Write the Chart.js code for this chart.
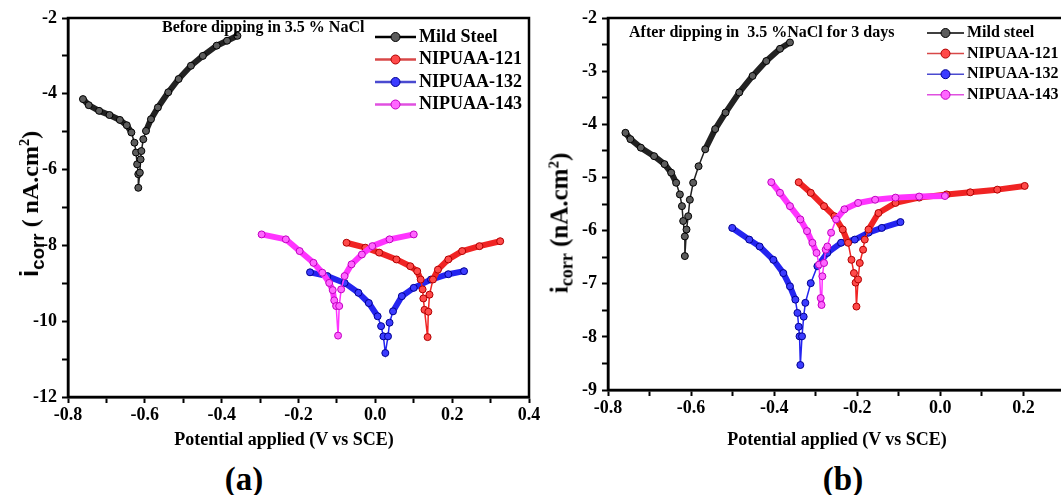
<!DOCTYPE html>
<html lang="en">
<head>
  <meta charset="UTF-8" />
  <title>Tafel plots before and after dipping in NaCl</title>
  <script src="https://cdn.jsdelivr.net/npm/chart.js"></script>
  <style>
    html, body {
      margin: 0;
      padding: 0;
      background: #fff;
      overflow: hidden;
    }
    body {
      width: 1061px;
      height: 495px;
      position: relative;
      font-family: "Liberation Serif", "Times New Roman", serif;
      font-weight: bold;
      color: #000;
    }
    .panel {
      position: absolute;
      top: 0;
      width: 560px;
      height: 460px;
    }
    #panelA { left: 0; }
    #panelB { left: 530px; }
    .xtitle, .caption, .ytitle {
      position: absolute;
      white-space: nowrap;
      line-height: 1;
    }
    .xtitle, .caption {
      transform: translate(-50%, -50%);
    }
    .xtitle { font-size: 18px; }
    .caption { font-size: 33px; }
    .ytitle {
      transform: translate(-50%, -50%) rotate(-90deg);
    }
    .ytitle sub { font-size: 0.72em; vertical-align: -0.3em; line-height: 0; }
    .ytitle sup { font-size: 0.6em; vertical-align: 0.6em; line-height: 0; }
    .sans { font-family: "Liberation Sans", Arial, sans-serif; }
    #ytA { left: 29px; top: 204px; font-size: 24px; }
    #ytA .sans { font-size: 26px; }
    #ytB { left: 559px; top: 223px; font-size: 25px; }
    #xtA { left: 284px; top: 439px; }
    #xtB { left: 837px; top: 439px; }
    #capA { left: 244px; top: 479px; }
    #capB { left: 843px; top: 479px; }
  </style>
</head>
<body>
  <div class="panel" id="panelA"><canvas id="chartA" width="560" height="460"></canvas></div>
  <div class="panel" id="panelB"><canvas id="chartB" width="560" height="460"></canvas></div>

  <div class="ytitle" id="ytA"><span class="sans">i<sub>corr</sub></span> ( nA.cm<sup>2</sup>)</div>
  <div class="ytitle" id="ytB">i<sub>corr</sub> (nA.cm<sup>2</sup>)</div>
  <div class="xtitle" id="xtA">Potential applied (V vs SCE)</div>
  <div class="xtitle" id="xtB">Potential applied (V vs SCE)</div>
  <div class="caption" id="capA">(a)</div>
  <div class="caption" id="capB">(b)</div>

  <script>
    // ---- (a) before dipping: potential (V vs SCE) and log current ----
    const steelA_E = [-0.761, -0.746, -0.719, -0.692, -0.665, -0.647, -0.635, -0.627, -0.623, -0.620, -0.617, -0.617,
                      -0.613, -0.611, -0.609, -0.604, -0.597, -0.584, -0.566, -0.539, -0.512, -0.480, -0.449, -0.413, -0.386, -0.359];
    const steelA_I = [-4.14, -4.30, -4.45, -4.56, -4.69, -4.83, -5.02, -5.29, -5.55, -5.86, -6.12, -6.48,
                      -6.08, -5.73, -5.51, -5.20, -4.98, -4.67, -4.36, -3.96, -3.61, -3.26, -3.00, -2.73, -2.60, -2.47];

    const n121A_E = [-0.075, -0.026, 0.010, 0.055, 0.091, 0.109, 0.118, 0.123, 0.125, 0.128, 0.136,
                     0.138, 0.141, 0.150, 0.163, 0.190, 0.226, 0.271, 0.325];
    const n121A_I = [-7.93, -8.06, -8.19, -8.37, -8.55, -8.68, -8.90, -9.16, -9.40, -9.70, -10.42,
                     -9.75, -9.30, -8.90, -8.64, -8.37, -8.15, -8.02, -7.89];

    const n132A_E = [-0.170, -0.125, -0.080, -0.044, -0.017, 0.006, 0.015, 0.021, 0.026,
                     0.033, 0.037, 0.046, 0.069, 0.100, 0.145, 0.190, 0.231];
    const n132A_I = [-8.71, -8.81, -8.99, -9.25, -9.52, -9.87, -10.13, -10.40, -10.84,
                     -10.40, -10.04, -9.74, -9.34, -9.12, -8.90, -8.76, -8.68];

    const n143A_E = [-0.296, -0.233, -0.197, -0.161, -0.138, -0.120, -0.111, -0.107, -0.102, -0.097,
                     -0.094, -0.089, -0.080, -0.062, -0.035, -0.008, 0.037, 0.100];
    const n143A_I = [-7.71, -7.84, -8.15, -8.46, -8.72, -8.99, -9.18, -9.45, -9.60, -10.38,
                     -9.60, -9.16, -8.81, -8.50, -8.24, -8.02, -7.84, -7.71];

    // ---- (b) after 3 days in 3.5 % NaCl ----
    const steelB_E = [-0.758, -0.746, -0.721, -0.689, -0.664, -0.648, -0.636, -0.627, -0.622, -0.619, -0.615, -0.615,
                      -0.611, -0.607, -0.603, -0.595, -0.582, -0.566, -0.542, -0.517, -0.484, -0.452, -0.419, -0.386, -0.362];
    const steelB_I = [-4.16, -4.28, -4.44, -4.60, -4.75, -4.91, -5.10, -5.32, -5.54, -5.82, -6.11, -6.48,
                      -5.98, -5.73, -5.42, -5.10, -4.79, -4.47, -4.09, -3.78, -3.40, -3.09, -2.81, -2.58, -2.46];

    const n121B_E = [-0.341, -0.312, -0.280, -0.255, -0.235, -0.222, -0.214, -0.208, -0.204, -0.202,
                     -0.198, -0.194, -0.186, -0.182, -0.173, -0.149, -0.108, -0.051, 0.015, 0.072, 0.137, 0.203];
    const n121B_I = [-5.09, -5.29, -5.54, -5.73, -5.98, -6.23, -6.55, -6.80, -6.98, -7.43,
                     -6.92, -6.61, -6.36, -6.17, -5.98, -5.67, -5.48, -5.38, -5.32, -5.28, -5.23, -5.16];

    const n132B_E = [-0.501, -0.460, -0.435, -0.402, -0.378, -0.362, -0.349, -0.344, -0.341, -0.339, -0.337,
                     -0.333, -0.329, -0.325, -0.312, -0.296, -0.272, -0.239, -0.206, -0.173, -0.141, -0.096];
    const n132B_I = [-5.95, -6.17, -6.30, -6.55, -6.80, -7.05, -7.30, -7.55, -7.81, -7.99, -8.53,
                     -7.99, -7.62, -7.36, -6.99, -6.67, -6.42, -6.23, -6.17, -6.04, -5.95, -5.84];

    const n143B_E = [-0.407, -0.386, -0.362, -0.337, -0.321, -0.308, -0.298, -0.292, -0.288, -0.286,
                     -0.284, -0.280, -0.276, -0.272, -0.263, -0.251, -0.231, -0.198, -0.157, -0.108, -0.051, 0.011];
    const n143B_I = [-5.09, -5.29, -5.54, -5.79, -6.01, -6.23, -6.42, -6.64, -7.27, -7.40,
                     -6.86, -6.61, -6.36, -6.30, -6.04, -5.79, -5.60, -5.48, -5.42, -5.38, -5.36, -5.35];

    const labelsA = ['Mild Steel', 'NIPUAA-121', 'NIPUAA-132', 'NIPUAA-143'];
    const labelsB = ['Mild steel', 'NIPUAA-121', 'NIPUAA-132', 'NIPUAA-143'];
    const noteA = 'Before dipping in 3.5 % NaCl';
    const noteB = 'After dipping in  3.5 %NaCl for 3 days';

    const serif = '"Liberation Serif", "Times New Roman", serif';
    const tickFont = { family: serif, size: 18, weight: 'bold' };

    // rank 0 is drawn on top
    const looks = [
      { line: '#222222', fill: '#5c5c5c', edge: '#000000', key: '#000000', rank: 3 },
      { line: '#f02424', fill: '#ff4a4a', edge: '#b00000', key: '#d84848', rank: 1 },
      { line: '#2424f0', fill: '#3c3cff', edge: '#000090', key: '#4a4ad0', rank: 2 },
      { line: '#ff34ff', fill: '#ff66ff', edge: '#c000c0', key: '#e050e0', rank: 0 }
    ];

    // the markers pile up into a thick band except on the steep run around E_corr,
    // where they spread out; a point is left out of the band when both its neighbours
    // sit on steep steps (pixel scale of the panel given as kx, ky)
    function bandData(xs, ys, kx, ky) {
      const steep = xs.map((x, i) => {
        if (i === xs.length - 1) return false;
        const dx = Math.abs(xs[i + 1] - x) * kx;
        const dy = Math.abs(ys[i + 1] - ys[i]) * ky;
        return dy > 2.5 * dx && dy > 7;
      });
      return xs.map((x, i) => ({ x: x, y: (i > 0 && steep[i - 1] && steep[i]) ? null : ys[i] }));
    }

    function series(label, xs, ys, look, kx, ky) {
      const markers = {
        label: label,
        data: xs.map((x, i) => ({ x: x, y: ys[i] })),
        order: look.rank * 2,
        borderColor: look.line,
        borderWidth: 1.5,
        tension: 0,
        pointRadius: 3.5,
        pointBorderWidth: 1,
        pointBackgroundColor: look.fill,
        pointBorderColor: look.edge,
        keyColor: look.key
      };
      const band = {
        label: label + ' band',
        isBand: true,
        data: bandData(xs, ys, kx, ky),
        order: look.rank * 2 + 1,
        borderColor: look.line,
        borderWidth: 6,
        borderCapStyle: 'round',
        borderJoinStyle: 'round',
        spanGaps: false,
        tension: 0,
        pointRadius: 0
      };
      return [markers, band];
    }

    function xAxis(min, max, height) {
      return {
        type: 'linear',
        min: min,
        max: max,
        afterFit: s => { s.height = height; },
        ticks: {
          stepSize: 0.1,
          autoSkip: false,
          maxRotation: 0,
          padding: 2,
          color: '#000',
          font: tickFont,
          callback: v => Math.round(v * 10) % 2 === 0 ? (Math.round(v * 10) / 10).toFixed(1) : ''
        },
        grid: { drawOnChartArea: false, tickLength: 6, tickColor: '#000', tickWidth: 2 },
        border: { color: '#000', width: 2.5 }
      };
    }

    function yAxis(min, max, step, width, isMajor) {
      return {
        type: 'linear',
        min: min,
        max: max,
        afterFit: s => { s.width = width; },
        ticks: {
          stepSize: step,
          autoSkip: false,
          padding: 5,
          color: '#000',
          font: tickFont,
          callback: v => isMajor(v) ? String(v) : ''
        },
        grid: { drawOnChartArea: false, tickLength: 6, tickColor: '#000', tickWidth: 2 },
        border: { color: '#000', width: 2.5 }
      };
    }

    const framePlugin = {
      id: 'frame',
      afterDatasetsDraw(chart) {
        const { ctx, chartArea: a } = chart;
        ctx.save();
        ctx.strokeStyle = '#000';
        ctx.lineWidth = 2.5;
        ctx.strokeRect(a.left, a.top, a.right - a.left, a.bottom - a.top);
        ctx.restore();
      }
    };

    // legend drawn inside the plot, next to the condition note
    function keyPlugin(o) {
      return {
        id: 'key',
        afterDraw(chart) {
          const ctx = chart.ctx;
          ctx.save();
          ctx.textBaseline = 'middle';
          ctx.fillStyle = '#000';
          ctx.font = o.noteFont;
          ctx.fillText(o.note, o.noteX, o.noteY);
          ctx.font = o.font;
          chart.data.datasets.filter(ds => !ds.isBand).forEach((ds, i) => {
            const y = o.y + i * o.gap;
            ctx.strokeStyle = ds.keyColor;
            ctx.lineWidth = o.lineWidth;
            ctx.beginPath();
            ctx.moveTo(o.x0, y);
            ctx.lineTo(o.x1, y);
            ctx.stroke();
            ctx.beginPath();
            ctx.arc((o.x0 + o.x1) / 2, y, 4.5, 0, Math.PI * 2);
            ctx.fillStyle = ds.pointBackgroundColor;
            ctx.fill();
            ctx.strokeStyle = ds.pointBorderColor;
            ctx.lineWidth = 1;
            ctx.stroke();
            ctx.fillStyle = '#000';
            ctx.fillText(ds.label, o.textX, y);
          });
          ctx.restore();
        }
      };
    }

    function makeChart(id, datasets, scales, padding, key) {
      return new Chart(document.getElementById(id), {
        type: 'line',
        data: { datasets: datasets },
        options: {
          responsive: false,
          animation: false,
          devicePixelRatio: 1,
          events: [],
          layout: { padding: padding },
          scales: scales,
          plugins: {
            legend: { display: false },
            tooltip: { enabled: false }
          }
        },
        plugins: [framePlugin, keyPlugin(key)]
      });
    }

    // panel (a): about 383 px per volt, 38 px per decade
    makeChart('chartA', [].concat(
      series(labelsA[0], steelA_E, steelA_I, looks[0], 383, 38),
      series(labelsA[1], n121A_E, n121A_I, looks[1], 383, 38),
      series(labelsA[2], n132A_E, n132A_I, looks[2], 383, 38),
      series(labelsA[3], n143A_E, n143A_I, looks[3], 383, 38)
    ), {
      x: xAxis(-0.8, 0.4, 63),
      y: yAxis(-12, -2, 1, 68, v => v % 2 === 0)
    }, { left: 0, top: 18, right: 31, bottom: 0 }, {
      note: noteA, noteX: 162, noteY: 28, noteFont: 'bold 16px ' + serif,
      font: 'bold 18px ' + serif, x0: 375, x1: 416, textX: 419, y: 37, gap: 22.5, lineWidth: 2.5
    });

    // panel (b): about 415 px per volt, 53 px per decade
    makeChart('chartB', [].concat(
      series(labelsB[0], steelB_E, steelB_I, looks[0], 415, 53),
      series(labelsB[1], n121B_E, n121B_I, looks[1], 415, 53),
      series(labelsB[2], n132B_E, n132B_I, looks[2], 415, 53),
      series(labelsB[3], n143B_E, n143B_I, looks[3], 415, 53)
    ), {
      x: xAxis(-0.8, 0.3, 70),
      y: yAxis(-9, -2, 0.5, 78, v => Number.isInteger(v))
    }, { left: 0, top: 18, right: 25, bottom: 0 }, {
      note: noteB, noteX: 99, noteY: 33, noteFont: 'bold 16px ' + serif,
      font: 'bold 16px ' + serif, x0: 397, x1: 434, textX: 437, y: 33, gap: 20.6, lineWidth: 1.5
    });
  </script>
</body>
</html>
